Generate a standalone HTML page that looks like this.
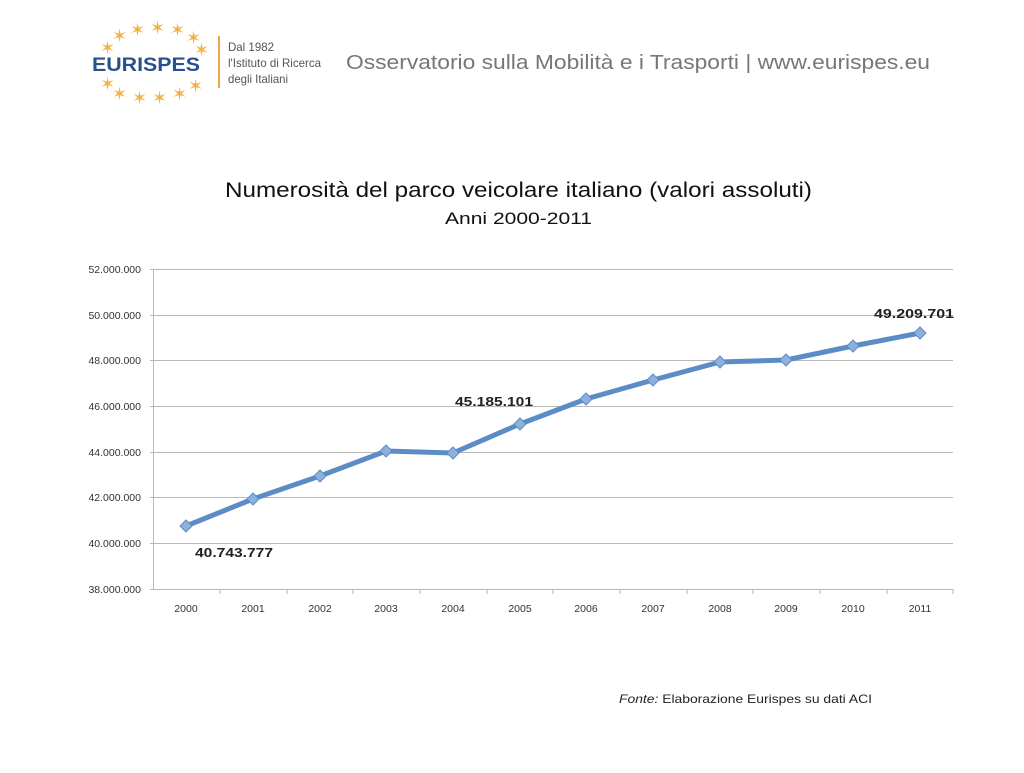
<!DOCTYPE html>
<html><head><meta charset="utf-8"><style>
body{margin:0;width:1024px;height:768px;background:#fff;overflow:hidden;font-family:"Liberation Sans",sans-serif}
</style></head><body>
<svg width="1024" height="768" xmlns="http://www.w3.org/2000/svg" font-family="Liberation Sans, sans-serif">
<!-- logo -->
<g fill="#f0b24a" font-size="18">
<text x="112" y="42">✶</text><text x="130" y="36">✶</text><text x="150" y="34">✶</text><text x="170" y="36">✶</text><text x="186" y="44">✶</text>
<text x="100" y="54">✶</text><text x="194" y="56">✶</text>
<text x="100" y="90">✶</text><text x="112" y="100">✶</text><text x="132" y="104">✶</text><text x="152" y="104">✶</text><text x="172" y="100">✶</text><text x="188" y="92">✶</text>
</g>
<text x="92" y="71" font-size="19" font-weight="bold" fill="#2a4f8f" textLength="108" lengthAdjust="spacingAndGlyphs">EURISPES</text>
<line x1="219" y1="36" x2="219" y2="88" stroke="#e9a745" stroke-width="2"/>
<g font-size="12" fill="#555">
<text x="228" y="51" textLength="46" lengthAdjust="spacingAndGlyphs">Dal 1982</text><text x="228" y="67" textLength="93" lengthAdjust="spacingAndGlyphs">l'Istituto di Ricerca</text><text x="228" y="83" textLength="60" lengthAdjust="spacingAndGlyphs">degli Italiani</text>
</g>
<text x="346" y="69" font-size="20" fill="#777" textLength="584" lengthAdjust="spacingAndGlyphs">Osservatorio sulla Mobilità e i Trasporti | www.eurispes.eu</text>
<!-- title -->
<text x="225" y="197" font-size="21" fill="#111" textLength="587" lengthAdjust="spacingAndGlyphs">Numerosità del parco veicolare italiano (valori assoluti)</text>
<text x="445" y="224" font-size="17" fill="#111" textLength="147" lengthAdjust="spacingAndGlyphs">Anni 2000-2011</text>
<!-- grid -->
<g stroke="#b8b8b8" stroke-width="1">
<line x1="150" y1="269.5" x2="953" y2="269.5"/><line x1="150" y1="315.5" x2="953" y2="315.5"/>
<line x1="150" y1="360.5" x2="953" y2="360.5"/><line x1="150" y1="406.5" x2="953" y2="406.5"/>
<line x1="150" y1="452.5" x2="953" y2="452.5"/><line x1="150" y1="497.5" x2="953" y2="497.5"/>
<line x1="150" y1="543.5" x2="953" y2="543.5"/><line x1="150" y1="589.5" x2="953" y2="589.5"/>
<line x1="153.5" y1="269" x2="153.5" y2="589"/>
<g>
<line x1="220" y1="589" x2="220" y2="594"/><line x1="287" y1="589" x2="287" y2="594"/><line x1="353" y1="589" x2="353" y2="594"/>
<line x1="420" y1="589" x2="420" y2="594"/><line x1="487" y1="589" x2="487" y2="594"/><line x1="553" y1="589" x2="553" y2="594"/>
<line x1="620" y1="589" x2="620" y2="594"/><line x1="687" y1="589" x2="687" y2="594"/><line x1="753" y1="589" x2="753" y2="594"/>
<line x1="820" y1="589" x2="820" y2="594"/><line x1="887" y1="589" x2="887" y2="594"/><line x1="953" y1="589" x2="953" y2="594"/>
</g></g>
<g font-size="10.5" fill="#333" text-anchor="end">
<text x="141" y="273">52.000.000</text><text x="141" y="319">50.000.000</text><text x="141" y="364">48.000.000</text>
<text x="141" y="410">46.000.000</text><text x="141" y="456">44.000.000</text><text x="141" y="501">42.000.000</text>
<text x="141" y="547">40.000.000</text><text x="141" y="593">38.000.000</text>
</g>
<g font-size="10.5" fill="#333" text-anchor="middle">
<text x="186" y="612">2000</text><text x="253" y="612">2001</text><text x="320" y="612">2002</text><text x="386" y="612">2003</text>
<text x="453" y="612">2004</text><text x="520" y="612">2005</text><text x="586" y="612">2006</text><text x="653" y="612">2007</text>
<text x="720" y="612">2008</text><text x="786" y="612">2009</text><text x="853" y="612">2010</text><text x="920" y="612">2011</text>
</g>
<polyline fill="none" stroke="#5b8cc6" stroke-width="5" stroke-linejoin="round" points="186,526 253,499 320,476 386,451 453,453 520,424 586,399 653,380 720,362 786,360 853,346 920,333"/>
<g fill="#8db0dc" stroke="#5b8cc6" stroke-width="1">
<path d="M186 520l6 6-6 6-6-6z"/><path d="M253 493l6 6-6 6-6-6z"/><path d="M320 470l6 6-6 6-6-6z"/><path d="M386 445l6 6-6 6-6-6z"/>
<path d="M453 447l6 6-6 6-6-6z"/><path d="M520 418l6 6-6 6-6-6z"/><path d="M586 393l6 6-6 6-6-6z"/><path d="M653 374l6 6-6 6-6-6z"/>
<path d="M720 356l6 6-6 6-6-6z"/><path d="M786 354l6 6-6 6-6-6z"/><path d="M853 340l6 6-6 6-6-6z"/><path d="M920 327l6 6-6 6-6-6z"/>
</g>
<g font-size="12.5" font-weight="bold" fill="#222">
<text x="195" y="557" textLength="78" lengthAdjust="spacingAndGlyphs">40.743.777</text><text x="455" y="406" textLength="78" lengthAdjust="spacingAndGlyphs">45.185.101</text><text x="874" y="318" textLength="80" lengthAdjust="spacingAndGlyphs">49.209.701</text>
</g>
<text x="619" y="703" font-size="12" fill="#222" textLength="253" lengthAdjust="spacingAndGlyphs"><tspan font-style="italic">Fonte:</tspan> Elaborazione Eurispes su dati ACI</text>
</svg>
</body></html>
